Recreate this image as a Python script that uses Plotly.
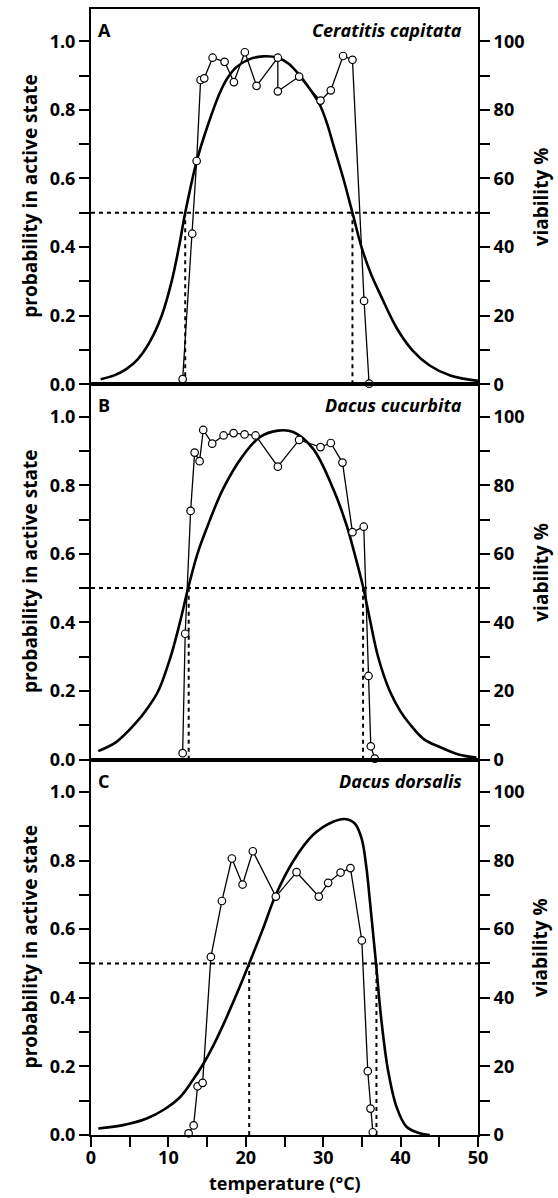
import plotly.graph_objects as go

# ---------------- data ----------------
# Panel A: Ceratitis capitata
a_temp = [11.84, 13.08, 13.65, 14.16, 14.63, 15.71, 17.26, 18.46, 19.88, 21.39,
          24.14, 24.14, 26.89, 29.65, 30.98, 32.57, 33.78, 35.28, 35.93]
a_viab = [1.5, 43.9, 65.1, 88.7, 89.2, 95.2, 94.0, 88.1, 96.8, 87.0,
          95.2, 85.4, 89.7, 82.7, 85.7, 95.7, 94.6, 24.3, 0.2]
a_fit_t = [1.25, 3.0, 4.6, 6.0, 7.5, 9.13, 10.42, 11.36, 12.17, 13.65, 14.94, 16.65,
           17.7, 18.81, 20.5, 22.24, 24.14, 25.5, 26.98, 28.3, 29.56, 30.5, 31.28, 32.6,
           33.78, 34.95, 36.2, 37.31, 39.47, 41.5, 43.76, 46.5, 50.0]
a_fit_p = [0.015, 0.026, 0.045, 0.072, 0.12, 0.20, 0.30, 0.40, 0.50, 0.65, 0.745, 0.85,
           0.895, 0.925, 0.948, 0.956, 0.952, 0.935, 0.90, 0.86, 0.815, 0.76, 0.70, 0.60,
           0.50, 0.40, 0.32, 0.265, 0.165, 0.10, 0.055, 0.025, 0.01]
a_t50 = [12.17, 33.78]

# Panel B: Dacus cucurbita
b_temp = [11.84, 12.17, 12.87, 13.39, 14.03, 14.50, 15.66, 17.13, 18.42, 19.84, 21.26,
          24.14, 26.89, 29.65, 30.98, 32.49, 33.78, 35.24, 35.85, 36.15, 36.66]
b_viab = [1.9, 36.7, 72.5, 89.5, 87.0, 96.1, 92.1, 94.5, 95.2, 94.8, 94.5,
          85.4, 93.2, 91.1, 92.3, 86.6, 66.3, 67.9, 24.4, 3.9, 0.3]
b_fit_t = [0.94, 3.3, 5.68, 7.3, 8.69, 10.29, 11.49, 12.55, 13.75, 14.94, 17.08, 19.66,
           21.82, 24.14, 26.12, 28.70, 31.28, 33.01, 34.0, 35.15, 36.02, 37.09, 38.60,
           40.0, 41.18, 43.0, 45.05, 47.5, 49.79]
b_fit_p = [0.025, 0.052, 0.104, 0.15, 0.20, 0.30, 0.40, 0.50, 0.60, 0.674, 0.79, 0.887,
           0.94, 0.959, 0.955, 0.906, 0.79, 0.684, 0.605, 0.504, 0.41, 0.30, 0.20,
           0.14, 0.104, 0.06, 0.037, 0.015, 0.006]
b_t50 = [12.62, 35.15]

# Panel C: Dacus dorsalis
c_temp = [12.61, 13.26, 13.77, 14.42, 15.49, 16.91, 18.20, 19.58, 20.91, 23.88,
          26.56, 29.43, 30.64, 32.24, 33.52, 34.99, 35.76, 36.11, 36.41]
c_viab = [0.5, 2.8, 14.2, 15.2, 51.9, 68.2, 80.6, 73.0, 82.7, 69.5,
          76.6, 69.5, 73.5, 76.5, 77.8, 56.7, 18.6, 7.7, 0.8]
c_fit_t = [0.94, 4.0, 7.19, 9.5, 11.49, 13.0, 14.50, 15.9, 17.30, 18.9, 20.44, 22.2,
           23.88, 26.12, 28.70, 31.28, 32.79, 34.08, 34.95, 35.59, 36.02, 36.79, 37.53,
           38.38, 39.47, 40.76, 42.47, 43.77]
c_fit_p = [0.019, 0.028, 0.048, 0.075, 0.11, 0.155, 0.207, 0.265, 0.332, 0.415, 0.50, 0.60,
           0.70, 0.798, 0.875, 0.913, 0.921, 0.908, 0.865, 0.778, 0.685, 0.508, 0.332,
           0.188, 0.082, 0.024, 0.005, 0.0]
c_t50 = [20.44, 36.88]

panel_letters = ["A", "B", "C"]
species = ["Ceratitis capitata", "Dacus cucurbita", "Dacus dorsalis"]
half = 0.5
x_range = [0, 50]
x_ticks = [0, 10, 20, 30, 40, 50]
p_ticks = [0.0, 0.2, 0.4, 0.6, 0.8, 1.0]
v_ticks = [0, 20, 40, 60, 80, 100]

# ---------------- figure ----------------
FONT = "Open Sans"
fig = go.Figure()

panels = [
    (a_temp, a_viab, a_fit_t, a_fit_p, a_t50),
    (b_temp, b_viab, b_fit_t, b_fit_p, b_t50),
    (c_temp, c_viab, c_fit_t, c_fit_p, c_t50),
]
domains = [[2 / 3, 1.0], [1 / 3, 2 / 3], [0.0, 1 / 3]]
YTOP = 1.094

for i, (t, v, ft, fp, t50) in enumerate(panels):
    xa = "x" if i == 0 else f"x{i + 1}"
    yl = "y" if i == 0 else f"y{2 * i + 1}"
    yr = f"y{2 * i + 2}"
    dot = dict(color="black", width=2, dash="4px,4px")
    fig.add_trace(go.Scatter(x=x_range, y=[half, half], mode="lines", line=dot,
                             xaxis=xa, yaxis=yl, showlegend=False, hoverinfo="skip"))
    for tt in t50:
        fig.add_trace(go.Scatter(x=[tt, tt], y=[0, half], mode="lines", line=dot,
                                 xaxis=xa, yaxis=yl, showlegend=False, hoverinfo="skip"))
    fig.add_trace(go.Scatter(x=ft, y=fp, mode="lines",
                             line=dict(color="black", width=2.6, shape="spline", smoothing=1.0),
                             xaxis=xa, yaxis=yl, showlegend=False))
    fig.add_trace(go.Scatter(x=t, y=v, mode="lines+markers",
                             line=dict(color="black", width=1.3),
                             marker=dict(symbol="circle", size=7.5, color="white",
                                         line=dict(color="black", width=1.2)),
                             cliponaxis=False,
                             xaxis=xa, yaxis=yr, showlegend=False))

tickfont = dict(family=FONT, size=18, color="black", weight="bold")
layout = dict(
    width=558, height=1198,
    margin=dict(l=91, r=80, t=7, b=63),
    paper_bgcolor="white", plot_bgcolor="white",
    showlegend=False,
    font=dict(family=FONT, color="black"),
)
for i in range(3):
    xk = "xaxis" if i == 0 else f"xaxis{i + 1}"
    ylk = "yaxis" if i == 0 else f"yaxis{2 * i + 1}"
    yrk = f"yaxis{2 * i + 2}"
    yl = "y" if i == 0 else f"y{2 * i + 1}"
    xa = "x" if i == 0 else f"x{i + 1}"
    last = (i == 2)
    layout[xk] = dict(
        domain=[0, 1], anchor=yl, range=x_range,
        showline=True, linewidth=2, linecolor="black", mirror=True,
        showgrid=False, zeroline=False,
        ticks="outside" if last else "", ticklen=10, tickwidth=2, tickcolor="black",
        tickvals=x_ticks if last else [], showticklabels=last,
        ticklabelstandoff=-5,
        tickfont=tickfont,
        minor=dict(dtick=5, tick0=0, ticks="outside" if last else "", ticklen=10,
                   tickwidth=2, tickcolor="black", showgrid=False),
    )
    layout[ylk] = dict(
        domain=domains[i], anchor=xa, range=[0, YTOP],
        showline=True, linewidth=2, linecolor="black",
        showgrid=False, zeroline=False,
        ticks="outside", ticklen=10, tickwidth=2, tickcolor="black",
        tickvals=p_ticks, ticktext=[f"{p:.1f}" for p in p_ticks],
        tickfont=tickfont,
        minor=dict(dtick=0.1, tick0=0, ticks="outside", ticklen=10, tickwidth=2,
                   tickcolor="black", showgrid=False),
    )
    layout[yrk] = dict(
        overlaying=yl, side="right", anchor=xa, range=[0, YTOP * 100],
        showline=True, linewidth=2, linecolor="black",
        showgrid=False, zeroline=False,
        ticks="outside", ticklen=10, tickwidth=2, tickcolor="black",
        tickvals=v_ticks, ticktext=[str(v) for v in v_ticks],
        tickfont=tickfont,
        minor=dict(dtick=10, tick0=0, ticks="outside", ticklen=10, tickwidth=2,
                   tickcolor="black", showgrid=False),
    )

fig.update_layout(**layout)

title_font = dict(family=FONT, size=19, color="black", weight="bold")
annotations = []
for i in range(3):
    xa = "x" if i == 0 else f"x{i + 1}"
    yl = "y" if i == 0 else f"y{2 * i + 1}"
    annotations.append(dict(text=panel_letters[i], xref=f"{xa} domain", yref=f"{yl} domain",
                            x=0.014, y=0.944, xanchor="left", yanchor="middle", showarrow=False,
                            font=dict(family=FONT, size=18, color="black", weight="bold")))
    annotations.append(dict(text=f"<i>{species[i]}</i>", xref=f"{xa} domain", yref=f"{yl} domain",
                            x=0.965, y=0.944, xanchor="right", yanchor="middle", showarrow=False,
                            font=dict(family=FONT, size=18, color="black", weight="bold")))
    ymid = (domains[i][0] + domains[i][1]) / 2
    annotations.append(dict(text="probability in active state", xref="paper", yref="paper",
                            x=-0.1575, y=ymid, xanchor="center", yanchor="middle",
                            textangle=-90, showarrow=False, font=title_font))
    annotations.append(dict(text="viability %", xref="paper", yref="paper",
                            x=1.162, y=ymid, xanchor="center", yanchor="middle",
                            textangle=-90, showarrow=False, font=title_font))
annotations.append(dict(text="temperature (°C)", xref="paper", yref="paper",
                        x=0.5, y=-0.0426, xanchor="center", yanchor="middle", showarrow=False,
                        font=dict(family=FONT, size=18, color="black", weight="bold")))
fig.update_layout(annotations=annotations)

fig.write_html("out.html")
